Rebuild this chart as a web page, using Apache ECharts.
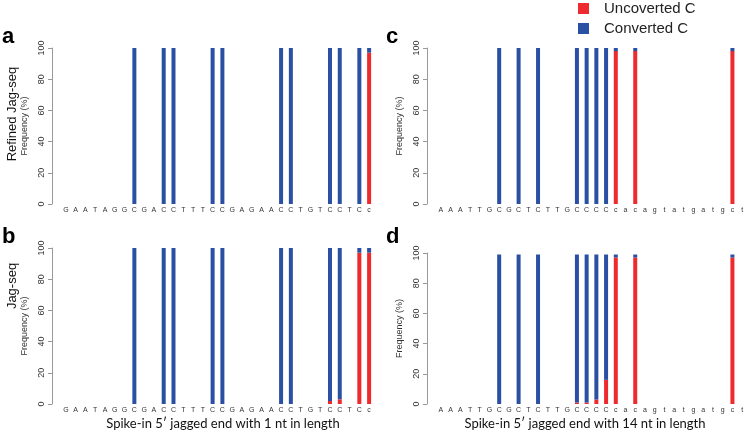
<!DOCTYPE html>
<html><head><meta charset="utf-8">
<script src="https://cdn.jsdelivr.net/npm/echarts@6/dist/echarts.min.js"></script>
<style>html,body{margin:0;padding:0;background:#fff}#c{width:747px;height:432px}</style>
</head><body><div id="c"></div>
<script>
const leftSeq = ['G','A','A','T','A','G','G','C','G','A','C','C','T','T','T','C','C','G','A','G','A','A','C','C','T','G','T','C','C','T','C','c'];
const rightSeq = ['A','A','A','T','T','G','C','G','C','T','C','T','T','G','C','C','C','C','c','a','c','a','g','t','a','t','g','a','t','g','c','t'];
const yTicks = [0, 20, 40, 60, 80, 100];
// 1-based positions -> values
const aUnconv = {32: 97};
const aConv = {8:100,11:100,12:100,16:100,17:100,23:100,24:100,28:100,29:100,31:100,32:3};
const bUnconv = {28: 2, 29: 3, 31: 97, 32: 97};
const bConv = {8:100,11:100,12:100,16:100,17:100,23:100,24:100,28:98,29:97,31:3,32:3};
const cUnconv = {19: 98, 21: 98, 31: 98};
const cConv = {7:100,9:100,11:100,15:100,16:100,17:100,18:100,19:2,21:2,31:2};
const dUnconv = {15: 1, 16: 1, 17: 3, 18: 16, 19: 97, 21: 97, 31: 97};
const dConv = {7:99,9:99,11:99,15:98,16:98,17:96,18:83,19:2,21:2,31:2};
const panelLetters = ['a','b','c','d'];
const rowTitles = ['Refined Jag-seq','Jag-seq'];
const xTitles = ['Spike-in 5\u2032 jagged end with 1 nt in length','Spike-in 5\u2032 jagged end with 14 nt in length'];

const RED = '#ee2a2e', BLUE = '#2a50a4';
const toArr = (obj) => Array.from({length: 32}, (_, i) => obj[i + 1] !== undefined ? obj[i + 1] : null);
const idx = Array.from({length: 32}, (_, i) => String(i));

const grids = [
  {left: 61, top: 48, width: 313, height: 156},
  {left: 61, top: 248, width: 313, height: 156},
  {left: 436, top: 48, width: 318, height: 156},
  {left: 436, top: 253, width: 318, height: 151}
];
const seqs = [leftSeq, leftSeq, rightSeq, rightSeq];
const data = [[aUnconv,aConv],[bUnconv,bConv],[cUnconv,cConv],[dUnconv,dConv]];

const xAxis = [], yAxis = [], series = [];
grids.forEach((g, i) => {
  const seq = seqs[i];
  xAxis.push({
    type: 'category', gridIndex: i, data: idx,
    axisLine: {show: false}, axisTick: {show: false},
    axisLabel: {interval: 0, margin: 3, fontSize: 7, color: '#333', fontFamily: 'Liberation Sans',
      formatter: (v) => seq[+v]}
  });
  yAxis.push({
    type: 'value', gridIndex: i, min: 0, max: 100, interval: 20, offset: 9,
    axisLine: {show: true, lineStyle: {color: '#999', width: 1}},
    axisTick: {show: true, length: 4, lineStyle: {color: '#999'}},
    splitLine: {show: false},
    axisLabel: {rotate: 90, margin: 6, fontSize: 9, color: '#333', fontFamily: 'Liberation Sans',
      formatter: (v) => yTicks.includes(v) ? String(v) : ''},
    name: 'Frequency (%)', nameLocation: 'middle', nameGap: 23, nameRotate: 90,
    nameTextStyle: {fontSize: 9, color: '#333', fontFamily: 'Liberation Sans'}
  });
  series.push({
    name: 'Uncoverted C', type: 'bar', stack: 's' + i, xAxisIndex: i, yAxisIndex: i,
    data: toArr(data[i][0]), barWidth: 4, itemStyle: {color: RED}, silent: true
  });
  series.push({
    name: 'Converted C', type: 'bar', stack: 's' + i, xAxisIndex: i, yAxisIndex: i,
    data: toArr(data[i][1]), barWidth: 4, itemStyle: {color: BLUE}, silent: true
  });
});

const graphic = [
  {type: 'text', left: 2, top: 26, style: {text: panelLetters[0], font: 'bold 22px Liberation Sans', fill: '#000'}},
  {type: 'text', left: 2, top: 226, style: {text: panelLetters[1], font: 'bold 22px Liberation Sans', fill: '#000'}},
  {type: 'text', left: 386, top: 26, style: {text: panelLetters[2], font: 'bold 22px Liberation Sans', fill: '#000'}},
  {type: 'text', left: 386, top: 226, style: {text: panelLetters[3], font: 'bold 22px Liberation Sans', fill: '#000'}},
  {type: 'text', x: 12, y: 114, rotation: Math.PI / 2, style: {text: rowTitles[0], font: '13px Liberation Sans', fill: '#111', align: 'center', verticalAlign: 'middle'}},
  {type: 'text', x: 12, y: 286, rotation: Math.PI / 2, style: {text: rowTitles[1], font: '13px Liberation Sans', fill: '#111', align: 'center', verticalAlign: 'middle'}},
  {type: 'text', x: 223, y: 424, style: {text: xTitles[0], font: '13px Lato', fill: '#111', align: 'center', verticalAlign: 'middle'}},
  {type: 'text', x: 585, y: 424, style: {text: xTitles[1], font: '13px Lato', fill: '#111', align: 'center', verticalAlign: 'middle'}}
];

const chart = echarts.init(document.getElementById('c'), null, {renderer: 'canvas'});
chart.setOption({
  animation: false,
  backgroundColor: '#fff',
  legend: {
    orient: 'vertical', left: 573, top: -4, itemWidth: 11, itemHeight: 11, itemGap: 5,
    icon: 'rect', data: ['Uncoverted C', 'Converted C'],
    textStyle: {fontSize: 15, color: '#222', fontFamily: 'Liberation Sans', padding: [0, 0, 0, 10]}
  },
  grid: grids, xAxis, yAxis, series, graphic
});
</script></body></html>
